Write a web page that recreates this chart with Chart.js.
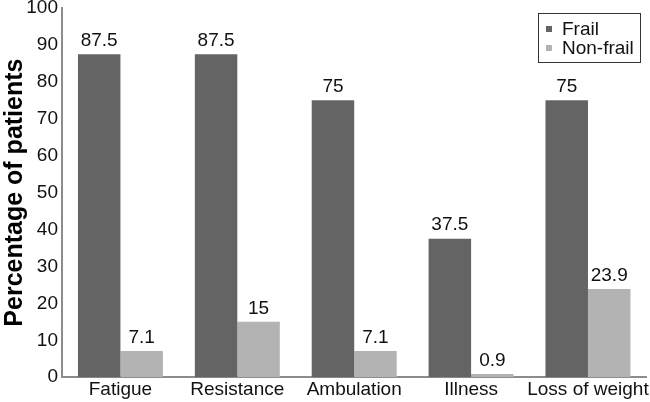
<!DOCTYPE html>
<html>
<head>
<meta charset="utf-8">
<script src="https://cdn.jsdelivr.net/npm/chart.js@4.4.0/dist/chart.umd.min.js"></script>
<style>
  html, body { margin: 0; padding: 0; background: #fff; }
  #wrap { width: 650px; height: 402px; }
</style>
</head>
<body>
<div id="wrap"><canvas id="chart"></canvas></div>
<script>
const categories = ['Fatigue', 'Resistance', 'Ambulation', 'Illness', 'Loss of weight'];
const frail = [87.5, 87.5, 75, 37.5, 75];
const nonFrail = [7.1, 15, 7.1, 0.9, 23.9];
const yTicks = [0, 10, 20, 30, 40, 50, 60, 70, 80, 90, 100];

const font = 'Liberation Sans, Arial, sans-serif';

// value labels on top of each bar
const barValues = {
    id: 'barValues',
    afterDatasetsDraw(chart) {
        const ctx = chart.ctx;
        ctx.save();
        ctx.font = '19px ' + font;
        ctx.fillStyle = '#111';
        ctx.textAlign = 'center';
        ctx.textBaseline = 'bottom';
        chart.data.datasets.forEach((ds, i) => {
            chart.getDatasetMeta(i).data.forEach((bar, j) => {
                ctx.fillText(String(ds.data[j]), bar.x, bar.y - 4);
            });
        });
        ctx.restore();
    }
};

// boxed legend in the top-right corner
const boxLegend = {
    id: 'boxLegend',
    afterDraw(chart) {
        const ctx = chart.ctx;
        const x = 538, y = 13, w = 102, h = 49;
        ctx.save();
        ctx.strokeStyle = '#333';
        ctx.lineWidth = 1;
        ctx.fillStyle = '#fff';
        ctx.fillRect(x, y, w, h);
        ctx.strokeRect(x + 0.5, y + 0.5, w, h);
        ctx.font = '19px ' + font;
        ctx.textBaseline = 'middle';
        chart.data.datasets.forEach((ds, i) => {
            const cy = y + 16 + i * 19;
            ctx.fillStyle = ds.backgroundColor;
            ctx.fillRect(x + 8, cy - 3, 6, 6);
            ctx.fillStyle = '#111';
            ctx.fillText(ds.label, x + 24, cy + 1);
        });
        ctx.restore();
    }
};

new Chart(document.getElementById('chart'), {
    type: 'bar',
    data: {
        labels: categories,
        datasets: [
            { label: 'Frail', data: frail, backgroundColor: '#646464' },
            { label: 'Non-frail', data: nonFrail, backgroundColor: '#b3b3b3' }
        ]
    },
    options: {
        responsive: true,
        maintainAspectRatio: false,
        animation: false,
        categoryPercentage: 0.727,
        barPercentage: 1,
        layout: { padding: { top: 8, right: 3, bottom: 0, left: 0 } },
        plugins: {
            legend: { display: false },
            tooltip: { enabled: false }
        },
        scales: {
            x: {
                grid: { display: false, drawTicks: false },
                border: { color: '#8c8c8c', width: 2 },
                ticks: {
                    color: '#111',
                    font: { family: font, size: 19 },
                    padding: 1,
                    maxRotation: 0,
                    autoSkip: false
                }
            },
            y: {
                min: 0,
                max: 100,
                afterFit(scale) {
                    scale.width = 62;
                    scale.paddingTop = 0;
                    scale.paddingBottom = 0;
                },
                afterBuildTicks(scale) {
                    scale.ticks = yTicks.map(v => ({ value: v }));
                },
                grid: { display: false, drawTicks: false },
                border: { color: '#8c8c8c', width: 2 },
                ticks: {
                    color: '#111',
                    font: { family: font, size: 19 },
                    padding: 4
                },
                title: {
                    display: true,
                    text: 'Percentage of patients',
                    color: '#000',
                    font: { family: font, size: 25, weight: 'bold' },
                    padding: 0
                }
            }
        }
    },
    plugins: [barValues, boxLegend]
});
</script>
</body>
</html>
